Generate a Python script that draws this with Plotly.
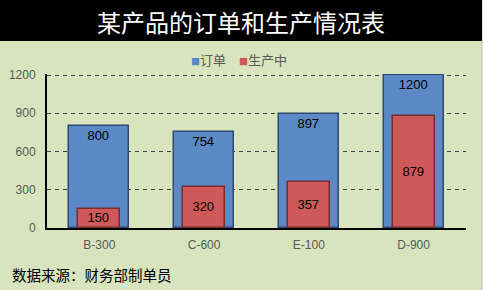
import plotly.graph_objects as go

categories = ["B-300", "C-600", "E-100", "D-900"]
orders = [800, 754, 897, 1200]
in_production = [150, 320, 357, 879]
y_ticks = [0, 300, 600, 900, 1200]
title_text = "某产品的订单和生产情况表"
source_text = "数据来源：财务部制单员"
series_names = ["订单", "生产中"]
series_colors = ["#5A89C6", "#CF5858"]

W, H = 484, 290
ml, mr, mt, mb = 47, 18, 74, 62
pw, ph = W - ml - mr, H - mt - mb

def px_x(x):
    return (x - ml) / pw

def px_y(y):
    return 1 - (y - mt) / ph

cjk = "Noto Sans CJK SC, Noto Sans, sans-serif"
lat = "Liberation Sans, Arial, sans-serif"

fig = go.Figure()
fig.add_trace(go.Bar(
    x=categories, y=orders, name=series_names[0], width=0.573,
    marker=dict(color=series_colors[0], line=dict(color="#2C4A72", width=1.5)),
    text=[str(v) for v in orders], textposition="inside", insidetextanchor="end",
    textangle=0, textfont=dict(family=lat, size=13, color="#000000"),
))
fig.add_trace(go.Bar(
    x=categories, y=in_production, name=series_names[1], width=0.4,
    marker=dict(color=series_colors[1], line=dict(color="#7A2C2C", width=1.5)),
    text=[str(v) for v in in_production], textposition="inside", insidetextanchor="middle",
    textangle=0, textfont=dict(family=lat, size=13, color="#000000"),
))

shapes = [
    dict(type="rect", xref="paper", yref="paper", x0=px_x(482), x1=px_x(W + 2),
         y0=px_y(H + 2), y1=px_y(-2), fillcolor="#FFFFFF", line=dict(width=0), layer="below"),
    dict(type="line", xref="paper", yref="paper", x0=px_x(482), x1=px_x(482),
         y0=px_y(H + 2), y1=px_y(-2), line=dict(color="#BFBFBF", width=1), layer="below"),
    dict(type="rect", xref="paper", yref="paper", x0=px_x(-2), x1=px_x(482),
         y0=px_y(41), y1=px_y(-2), fillcolor="#000000", line=dict(width=0), layer="below"),
]

legend_html = "\u2002\u2002".join(
    f"<span style='color:{c};font-size:9px'>■</span><span style='color:#595959'>{n}</span>"
    for n, c in zip(series_names, series_colors)
)

annotations = [
    dict(text=title_text, xref="paper", yref="paper", x=px_x(241), y=px_y(21),
         showarrow=False, xanchor="center", yanchor="middle",
         font=dict(family=cjk, size=24, color="#FFFFFF")),
    dict(text=source_text, xref="paper", yref="paper", x=px_x(10), y=px_y(274),
         showarrow=False, xanchor="left", yanchor="middle",
         font=dict(family=cjk, size=14.5, color="#000000")),
    dict(text=legend_html, xref="paper", yref="paper", x=px_x(239), y=px_y(59),
         showarrow=False, xanchor="center", yanchor="middle",
         font=dict(family=cjk, size=13, color="#595959")),
]

fig.update_layout(
    width=W, height=H,
    margin=dict(l=ml, r=mr, t=mt, b=mb, pad=0, autoexpand=False),
    paper_bgcolor="#D8E4BD", plot_bgcolor="#D8E4BD",
    barmode="overlay", bargap=0,
    shapes=shapes, annotations=annotations,
    showlegend=False,
    uniformtext=dict(minsize=13, mode="show"),
    xaxis=dict(showgrid=False, showline=True, linecolor="#000000", linewidth=2,
               ticks="", tickfont=dict(family=lat, size=12, color="#595959"),
               ticklabelstandoff=5, zeroline=False, automargin=False),
    yaxis=dict(range=[0, 1208], tickvals=y_ticks, showgrid=True, gridcolor="#404040",
               gridwidth=1, griddash="4px,4px", showline=True, linecolor="#000000",
               linewidth=2, ticks="", zeroline=False, automargin=False,
               tickfont=dict(family=lat, size=12, color="#595959"),
               ticklabelstandoff=7),
)

fig.write_html("out.html")
